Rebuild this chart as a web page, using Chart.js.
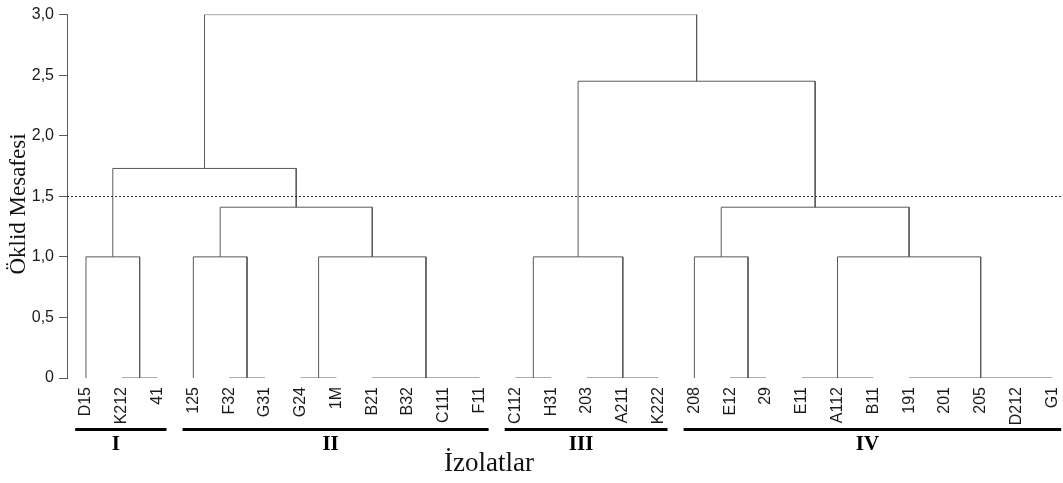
<!DOCTYPE html>
<html><head><meta charset="utf-8">
<script src="https://cdn.jsdelivr.net/npm/chart.js@4/dist/chart.umd.min.js"></script>
<style>html,body{margin:0;padding:0;background:#fff}#wrap{width:1063px;height:483px;position:relative}</style>
</head><body><div id="wrap"><canvas id="c"></canvas></div>
<script>
// Leaves (isolates), left to right
const leaves = ['D15','K212','41','125','F32','G31','G24','1M','B21','B32','C111','F11',
  'C112','H31','203','A211','K222','208','E12','29','E11','A112','B11','191','201','205','D212','G1'];
// Merges: children (leaf index 0..27, new nodes numbered from 28 in order) and height
const mergeChildren = [
  [1,2],[0,28],[4,5],[3,30],[6,7],[8,9,10,11],[32,33],[31,34],[29,35],
  [12,13],[14,15,16],[37,38],
  [18,19],[17,40],[20,21,22],[23,24,25,26,27],[42,43],[41,44],
  [39,45],[36,46]
];
const mergeHeights = [
  0,1.0,0,1.0,0,0,1.0,1.41,1.73,
  0,0,1.0,
  0,1.0,0,0,1.0,1.41,
  2.45,3.0
];
const cutHeight = 1.5;
const yTicks = [0,0.5,1.0,1.5,2.0,2.5,3.0];
const groupNames = ['I','II','III','IV'];
const groupFirst = [0,3,12,17];
const groupLast = [2,11,16,27];
const yTitle = 'Öklid Mesafesi';
const xTitle = 'İzolatlar';

// Build dendrogram segments from the tree
const nodeX = leaves.map((_, i) => i);
const nodeH = leaves.map(() => 0);
const segments = [];
mergeChildren.forEach((ch, k) => {
  const H = mergeHeights[k];
  const kids = ch.slice().sort((a, b) => nodeX[a] - nodeX[b]);
  const first = kids[0], last = kids[kids.length - 1];
  segments.push([
    {x: nodeX[first], y: nodeH[first]}, {x: nodeX[first], y: H},
    {x: nodeX[last], y: H}, {x: nodeX[last], y: nodeH[last]}
  ]);
  kids.slice(1, -1).forEach(c => {
    if (nodeH[c] < H) segments.push([{x: nodeX[c], y: nodeH[c]}, {x: nodeX[c], y: H}]);
  });
  nodeX.push(kids.reduce((s, c) => s + nodeX[c], 0) / kids.length);
  nodeH.push(H);
});

const lineColor = '#5a5a5a';
const datasets = segments.map(pts => ({
  data: pts, showLine: true, borderColor: lineColor, borderWidth: 1,
  pointRadius: 0, pointHoverRadius: 0, fill: false, tension: 0
}));

const extras = {
  id: 'extras',
  afterDraw(chart) {
    const {ctx, chartArea, scales} = chart;
    const xs = scales.x, ys = scales.y;
    ctx.save();
    // cut line
    const yc = Math.round(ys.getPixelForValue(cutHeight)) + 0.5;
    ctx.strokeStyle = '#333'; ctx.lineWidth = 1; ctx.setLineDash([2, 2]);
    ctx.beginPath(); ctx.moveTo(chartArea.left, yc); ctx.lineTo(chartArea.right, yc); ctx.stroke();
    ctx.setLineDash([]);
    // group bars + numerals
    ctx.fillStyle = '#000';
    ctx.font = 'bold 21px "Liberation Serif", "Times New Roman", serif';
    ctx.textAlign = 'center'; ctx.textBaseline = 'middle';
    groupNames.forEach((g, i) => {
      const x0 = xs.getPixelForValue(groupFirst[i] - 0.3);
      const x1 = Math.min(xs.getPixelForValue(groupLast[i] + 0.25), chart.width);
      ctx.fillRect(x0, 428, x1 - x0, 3);
      ctx.fillText(g, (x0 + x1) / 2 - 5, 445);
    });
    // axis titles
    ctx.fillStyle = '#111';
    ctx.font = '27px "Liberation Serif", "Times New Roman", serif';
    ctx.fillText(xTitle, 489, 464);
    ctx.translate(19, 204); ctx.rotate(-Math.PI / 2);
    ctx.font = '23px "Liberation Serif", "Times New Roman", serif';
    ctx.fillText(yTitle, 0, 0);
    ctx.restore();
  }
};

new Chart(document.getElementById('c'), {
  type: 'scatter',
  data: {datasets},
  options: {
    responsive: true, maintainAspectRatio: false, animation: false,
    layout: {padding: {top: 14, right: 0, left: 0, bottom: 0}},
    plugins: {legend: {display: false}, tooltip: {enabled: false}},
    scales: {
      x: {
        type: 'linear', min: -0.53, max: 27.3,
        afterBuildTicks: s => { s.ticks = leaves.map((_, i) => ({value: i})); },
        afterFit: s => { s.height = 105; s.paddingLeft = 0; s.paddingRight = 0; },
        grid: {display: false, drawTicks: false},
        border: {display: false},
        ticks: {
          autoSkip: false, minRotation: 90, maxRotation: 90, padding: 9,
          color: '#1a1a1a', font: {family: '"Liberation Sans", Arial, sans-serif', size: 16},
          callback: v => leaves[v]
        }
      },
      y: {
        min: 0, max: 3,
        afterBuildTicks: s => { s.ticks = yTicks.map(v => ({value: v})); },
        afterFit: s => { s.width = 67; },
        grid: {drawOnChartArea: false, drawTicks: true, tickLength: 8, color: lineColor},
        border: {display: true, color: lineColor},
        ticks: {
          padding: 5, color: '#1a1a1a',
          font: {family: '"Liberation Sans", Arial, sans-serif', size: 16},
          callback: v => v === 0 ? '0' : v.toFixed(1).replace('.', ',')
        }
      }
    }
  },
  plugins: [extras]
});
</script></body></html>
